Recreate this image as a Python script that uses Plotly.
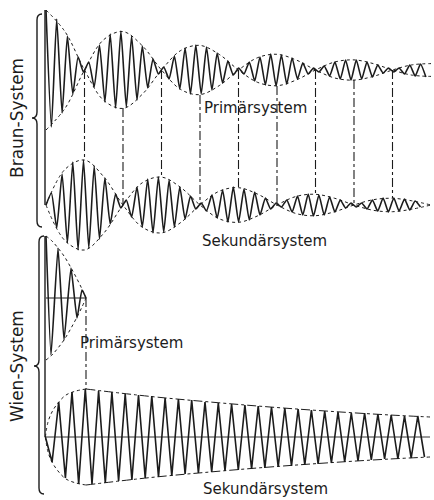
import plotly.graph_objects as go

INK = "#1c1c1c"

# ---------------- Braun-System (pixel-like units, y grows downward) ----------------
braun_prim_center = 70
braun_sec_center = 205

# x positions of the carrier extrema
braun_x = [46.0, 51.4, 56.7, 62.1, 67.4, 72.8, 78.1, 83.5, 88.8, 94.2, 99.5, 104.9, 110.2, 115.6,
           120.9, 126.3, 131.6, 137.0, 142.3, 147.7, 153.0, 158.4, 163.7, 169.1, 174.4, 179.8,
           185.1, 190.5, 195.8, 201.2, 206.5, 211.9, 217.2, 222.6, 227.9, 233.3, 238.6, 244.0,
           249.3, 254.7, 260.0, 265.4, 270.7, 276.1, 281.4, 286.8, 292.1, 297.5, 302.8, 308.2,
           313.5, 318.9, 324.2, 329.6, 334.9, 340.3, 345.6, 351.0, 356.3, 361.7, 367.0, 372.4,
           377.7, 383.1, 388.4, 393.8, 399.1, 404.5, 409.8, 415.2, 420.5, 425.9]

# primary (upward positive) extrema
braun_prim = [60, -57, 51, -43, 34, -24, 13, -2, 8, -17, 25, -32, 36, -38, 39, -37, 34, -30, 24, -18,
              11, -4, 3, -9, 14, -19, 22, -24, 25, -24, 23, -20, 17, -13, 9, -5, 2, -4, 8, -11,
              13, -15, 16, -16, 15, -14, 12, -9, 7, -4, 2, -2, 4, -6, 8, -9, 10, -10, 10, -9,
              8, -7, 5, -3, 2, -2, 2, -4, 5, -6, 6, -7]

# secondary extrema
braun_sec = [0, 12, -23, 31, -38, 43, -45, 45, -43, 39, -34, 27, -19, 11, -3, 5, -12, 18, -22, 26,
             -28, 28, -27, 25, -22, 18, -14, 9, -4, 2, -6, 10, -13, 15, -17, 18, -17, 16, -15, 13,
             -10, 7, -4, 2, -2, 5, -7, 9, -10, 11, -11, 10, -10, 8, -7, 5, -3, 2, -2, 2,
             -4, 5, -6, 7, -7, 7, -6, 6, -5, 4, -2]

# beat envelopes (signed), sampled every quarter beat
braun_env_x = [46, 65.25, 84.5, 103.75, 123, 142.25, 161.5, 180.75, 200, 219.25, 238.5,
               257.75, 277, 296.25, 315.5, 334.75, 354, 373.25, 392.5, 411.75, 431]
braun_prim_env = [60, 38, 0, -30.4, -38.4, -24.3, 0, 19.5, 24.6, 15.6, 0, -12.4, -15.7, -10.0,
                  0, 8.0, 10.1, 6.4, 0, -5.1, -6.4]
braun_sec_env = [0, 35.9, 45, 28.2, 0, -22.2, -27.9, -17.5, 0, 13.8, 17.3, 10.8, 0, -8.6,
                 -10.7, -6.7, 0, 5.3, 6.7, 4.2, 0]

# vertical dash-dot connectors
conn_x = [84.5, 123, 161.5, 200, 238.5, 277, 315.5, 354, 392.5]
conn_top = [70, 108, 70, 95, 70, 86, 70, 80, 70]
conn_bot = [160, 205, 177, 205, 188, 205, 194, 205, 198]

# ---------------- Wien-System ----------------
wien_prim_center = 298
wien_sec_center = 437

wien_prim_x = [46, 51, 58, 64, 71, 77, 82, 86]
wien_prim = [62, -57, 50, -42, 30, -20, 8, 0]
wien_prim_env_x = [46, 52, 58, 64, 70, 76, 82, 86]
wien_prim_env = [62, 57, 50, 42, 32, 21, 9, 0]

wien_sec_x = [45.4, 52.1, 58.7, 65.4, 72.0, 78.7, 85.3, 92.0, 98.6, 105.3, 111.9, 118.6, 125.2,
              131.9, 138.5, 145.2, 151.8, 158.5, 165.1, 171.8, 178.4, 185.1, 191.7, 198.4, 205.0,
              211.7, 218.3, 225.0, 231.6, 238.3, 244.9, 251.6, 258.2, 264.9, 271.5, 278.2, 284.8,
              291.5, 298.1, 304.8, 311.4, 318.1, 324.7, 331.4, 338.0, 344.7, 351.3, 358.0, 364.6,
              371.3, 377.9, 384.6, 391.2, 397.9, 404.5, 411.2, 417.8, 424.5]
wien_sec = [0, -25, 35, -41, 45, -47, 48, -47, 46, -46, 45, -44, 43, -43, 42, -41, 41, -40, 39,
            -39, 38, -37, 37, -36, 35, -35, 34, -34, 33, -33, 32, -32, 31, -31, 30, -30, 29, -29,
            28, -28, 27, -27, 26, -26, 25, -25, 24, -24, 24, -23, 23, -22, 22, -22, 21, -21, 21, -20]

wien_rise_x = [45.4, 48, 52, 58, 66, 76, 86]
wien_rise = [0, 15, 25, 34, 42, 46, 48]
wien_decay_x = [86, 150, 210, 270, 330, 390, 430]
wien_decay = [48, 40.6, 35, 30, 25.7, 22, 20]

# labels
labels = [
    ("Primärsystem", 255, 108),
    ("Sekundärsystem", 264, 241),
    ("Primärsystem", 131, 343),
    ("Sekundärsystem", 265, 489),
]
side_labels = [("Braun-System", 17, 118), ("Wien-System", 17, 366)]
braces = [(37, 14, 118, 227), (39, 236, 366, 494)]

fig = go.Figure()


def line(x, y, width=1.6, dash="solid", shape="linear", smooth=1.0):
    kw = dict(color=INK, width=width, dash=dash, shape=shape)
    if shape == "spline":
        kw["smoothing"] = smooth
    fig.add_trace(go.Scatter(x=x, y=y, mode="lines", line=kw, hoverinfo="skip", showlegend=False))


# Braun waves
line(braun_x, [braun_prim_center - a for a in braun_prim], 1.6, shape="spline", smooth=0.5)
line(braun_x[:len(braun_sec)], [braun_sec_center - a for a in braun_sec], 1.6, shape="spline", smooth=0.5)
# Braun envelopes
for c, env in ((braun_prim_center, braun_prim_env), (braun_sec_center, braun_sec_env)):
    line(braun_env_x, [c - e for e in env], 1.0, dash="dot", shape="spline")
    line(braun_env_x, [c + e for e in env], 1.0, dash="dot", shape="spline")
# connectors
cx, cy = [], []
for x, t, b in zip(conn_x, conn_top, conn_bot):
    cx += [x, x, None]
    cy += [t, b, None]
line(cx, cy, 1.1, dash="dashdot")
# start line
line([45, 45], [braun_prim_center - braun_prim[0], braun_sec_center], 1.4)

# Wien waves
line(wien_prim_x, [wien_prim_center - a for a in wien_prim], 1.6, shape="spline", smooth=0.4)
line(wien_prim_env_x, [wien_prim_center - a for a in wien_prim_env], 1.0, dash="dot", shape="spline")
line(wien_prim_env_x, [wien_prim_center + a for a in wien_prim_env], 1.0, dash="dot", shape="spline")
line([wien_prim_x[0], wien_prim_x[-1]], [wien_prim_center, wien_prim_center], 1.0)
line([wien_prim_x[-1], wien_prim_x[-1]], [wien_prim_center, wien_sec_center - wien_rise[-1]], 1.1, dash="dashdot")

line(wien_sec_x, [wien_sec_center - a for a in wien_sec], 1.6)
line(wien_rise_x, [wien_sec_center - a for a in wien_rise], 1.0, dash="dot", shape="spline")
line(wien_rise_x, [wien_sec_center + a for a in wien_rise], 1.0, dash="dot", shape="spline")
line(wien_decay_x, [wien_sec_center - a for a in wien_decay], 1.0, dash="dashdot", shape="spline")
line(wien_decay_x, [wien_sec_center + a for a in wien_decay], 1.0, dash="dashdot", shape="spline")
line([45, wien_decay_x[-1]], [wien_sec_center, wien_sec_center], 0.9)
line([45, 45], [wien_prim_center - wien_prim[0], wien_sec_center], 1.4)

# braces
shapes = []
for x, top, tip, bot in braces:
    path = (f"M {x+5},{top} Q {x},{top} {x},{top+6} L {x},{tip-6} "
            f"Q {x},{tip} {x-5},{tip} Q {x},{tip} {x},{tip+6} "
            f"L {x},{bot-6} Q {x},{bot} {x+5},{bot}")
    shapes.append(dict(type="path", path=path, xref="x", yref="y",
                       line=dict(color=INK, width=1.4)))

annotations = []
for t, x, y in labels:
    annotations.append(dict(text=t, x=x, y=y, xref="x", yref="y", showarrow=False,
                            xanchor="center", yanchor="middle",
                            font=dict(family="DejaVu Sans", size=15, color=INK)))
for t, x, y in side_labels:
    annotations.append(dict(text=t, x=x, y=y, xref="x", yref="y", showarrow=False,
                            textangle=-90, xanchor="center", yanchor="middle",
                            font=dict(family="DejaVu Sans", size=17, color=INK)))

fig.update_layout(
    width=434, height=500,
    margin=dict(l=0, r=0, t=0, b=0),
    paper_bgcolor="white", plot_bgcolor="white",
    xaxis=dict(range=[0, 434], visible=False, fixedrange=True),
    yaxis=dict(range=[500, 0], visible=False, fixedrange=True),
    shapes=shapes, annotations=annotations,
    showlegend=False,
)

fig.write_html("out.html", config={"displayModeBar": False},
               post_script="document.body.style.margin='0';document.body.style.overflow='hidden';")
